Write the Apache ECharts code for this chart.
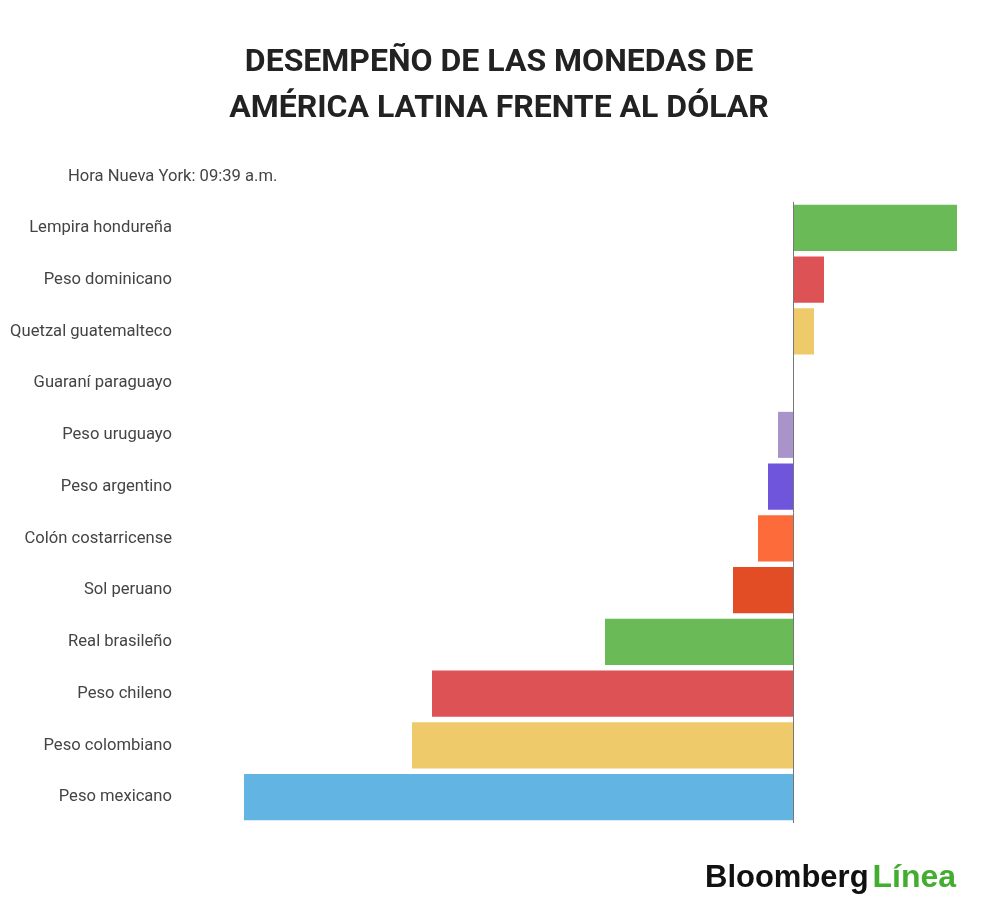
<!DOCTYPE html>
<html>
<head>
<meta charset="utf-8">
<script src="https://cdn.jsdelivr.net/npm/echarts@6/dist/echarts.min.js"></script>
<style>
  html, body { margin: 0; padding: 0; background: #fff; }
  #chart { width: 1000px; height: 917px; }
</style>
</head>
<body>
<div id="chart"></div>
<script>
// monedas, de arriba hacia abajo
var monedas = ['Lempira hondureña', 'Peso dominicano', 'Quetzal guatemalteco', 'Guaraní paraguayo',
  'Peso uruguayo', 'Peso argentino', 'Colón costarricense', 'Sol peruano', 'Real brasileño',
  'Peso chileno', 'Peso colombiano', 'Peso mexicano'];
// variación frente al dólar (%), estimada del gráfico
var variacion = [0.82, 0.155, 0.105, 0, -0.075, -0.125, -0.175, -0.30, -0.94, -1.805, -1.905, -2.745];
var colores = ['#6aba58', '#dd5355', '#efca6a', '#b0b0b0', '#a993cb', '#6e55dc', '#fd6b3a',
  '#e24d26', '#6aba58', '#dd5355', '#efca6a', '#62b4e3'];

(function(){
  var myChart = echarts.init(document.getElementById('chart'));

  var option = {
    backgroundColor: '#fff',
    animation: false,
    title: [
      {
        text: 'DESEMPEÑO DE LAS MONEDAS DE\nAMÉRICA LATINA FRENTE AL DÓLAR',
        left: 494,
        top: 35,
        textAlign: 'center',
        textStyle: {
          fontFamily: 'Roboto',
          fontWeight: 'bold',
          fontSize: 32,
          lineHeight: 46,
          color: '#222'
        }
      },
      {
        text: 'Hora Nueva York: 09:39 a.m.',
        left: 63,
        top: 163,
        textStyle: {
          fontFamily: 'Roboto',
          fontWeight: 'normal',
          fontSize: 16.6,
          color: '#444'
        }
      },
      {
        text: '{a|Bloomberg}{s| }{b|Línea}',
        left: 700,
        top: 857,
        textStyle: {
          rich: {
            a: { fontFamily: 'Liberation Sans', fontWeight: 'bold', fontSize: 31, color: '#111' },
            s: { fontSize: 14 },
            b: { fontFamily: 'Liberation Sans', fontWeight: 'bold', fontSize: 32, color: '#43ad2f' }
          }
        }
      }
    ],
    grid: {
      left: 244,
      right: 43,
      top: 202,
      bottom: 94,
      containLabel: false
    },
    xAxis: {
      type: 'value',
      min: 'dataMin',
      max: 'dataMax',
      show: false
    },
    yAxis: {
      type: 'category',
      inverse: true,
      data: monedas,
      axisLine: { show: false },
      axisTick: { show: false },
      axisLabel: {
        margin: 72,
        fontFamily: 'Roboto',
        fontSize: 16.6,
        color: '#444'
      }
    },
    series: [
      {
        type: 'bar',
        barCategoryGap: '11%',
        data: variacion.map(function(v, i){
          return { value: v, itemStyle: { color: colores[i] } };
        }),
        markLine: {
          silent: true,
          symbol: 'none',
          label: { show: false },
          lineStyle: { color: '#777', width: 1, type: 'solid' },
          data: [{ xAxis: 0 }]
        }
      }
    ]
  };
  myChart.setOption(option);
})();
</script>
</body>
</html>
